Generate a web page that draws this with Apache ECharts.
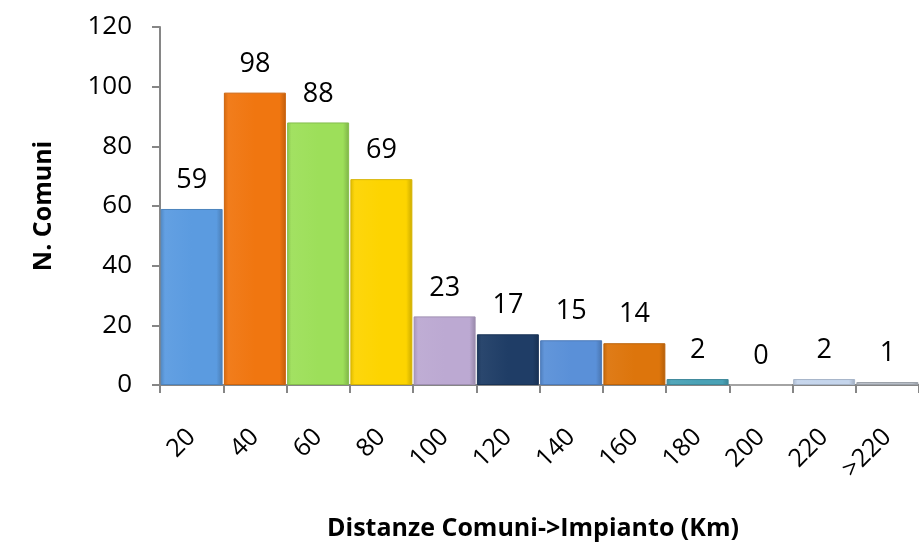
<!DOCTYPE html>
<html>
<head>
<meta charset="utf-8">
<script src="https://cdn.jsdelivr.net/npm/echarts@6/dist/echarts.min.js"></script>
<style>
  html, body { margin: 0; padding: 0; background: #fff; }
  #chart { width: 919px; height: 550px; }
</style>
</head>
<body>
<div id="chart"></div>
<script>
const categories = ['20', '40', '60', '80', '100', '120', '140', '160', '180', '200', '220', '>220'];
const counts = [59, 98, 88, 69, 23, 17, 15, 14, 2, 0, 2, 1];
const yTicks = { min: 0, max: 120, interval: 20 };

const barColors = ['#5b9be0', '#f07610', '#9ddf5a', '#fdd400', '#bca9d2', '#1f3d66',
  '#5a90d8', '#dd750c', '#4aa2b6', '#cccccc', '#c5d5ec', '#b8bec8'];

function shade(hex, f) {
  const n = parseInt(hex.slice(1), 16);
  const ch = [(n >> 16) & 255, (n >> 8) & 255, n & 255].map(c =>
    Math.max(0, Math.min(255, Math.round(f < 0 ? c * (1 + f) : c + (255 - c) * f))));
  return 'rgb(' + ch.join(',') + ')';
}

const FONT = "'Open Sans', sans-serif";
const chart = echarts.init(document.getElementById('chart'));

chart.setOption({
  animation: false,
  title: {
    text: 'Distanze Comuni->Impianto (Km)',
    left: 528, top: 511, textAlign: 'center',
    textStyle: { fontFamily: FONT, fontSize: 25, fontWeight: 'bold', color: '#000' }
  },
  grid: { left: 160, top: 27, width: 785, height: 358 },
  xAxis: {
    type: 'category', data: categories,
    axisLine: { lineStyle: { color: '#868686', width: 2 } },
    axisTick: { show: true, length: 8, lineStyle: { color: '#868686', width: 2 } },
    axisLabel: { rotate: 45, margin: 48, color: '#000', fontFamily: FONT, fontSize: 25, interval: 0 }
  },
  yAxis: {
    type: 'value', min: yTicks.min, max: yTicks.max, interval: yTicks.interval,
    name: 'N. Comuni', nameLocation: 'middle', nameGap: 104, nameRotate: 90,
    nameTextStyle: { fontFamily: FONT, fontSize: 25, fontWeight: 'bold', color: '#000' },
    splitLine: { show: false },
    axisLine: { show: true, lineStyle: { color: '#868686', width: 2 } },
    axisTick: { show: true, length: 8, lineStyle: { color: '#868686', width: 2 } },
    axisLabel: { color: '#000', fontFamily: FONT, fontSize: 26, margin: 28 }
  },
  series: [{
    type: 'bar',
    barCategoryGap: '2%',
    data: counts.map((v, i) => ({
      value: v,
      itemStyle: {
        color: new echarts.graphic.LinearGradient(0, 0, 1, 0, [
          { offset: 0, color: shade(barColors[i], -0.12) },
          { offset: 0.07, color: shade(barColors[i], 0.05) },
          { offset: 0.5, color: barColors[i] },
          { offset: 0.9, color: barColors[i] },
          { offset: 1, color: shade(barColors[i], -0.2) }
        ]),
        borderColor: shade(barColors[i], -0.15),
        borderWidth: 1
      }
    })),
    label: {
      show: true, position: 'top', distance: 15,
      color: '#000', fontFamily: FONT, fontSize: 27
    }
  }]
});
</script>
</body>
</html>
